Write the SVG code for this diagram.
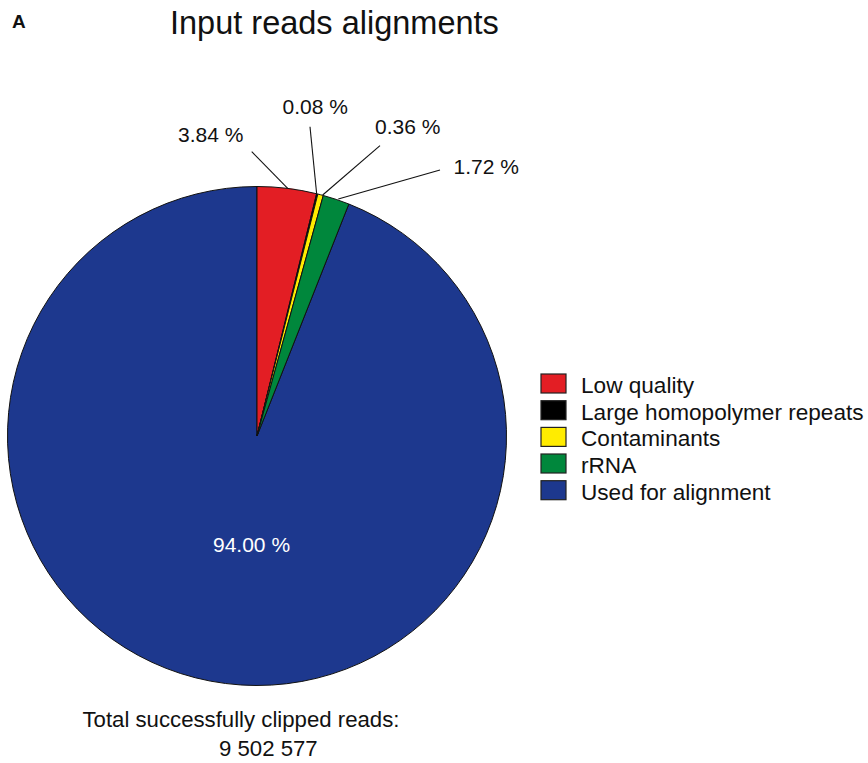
<svg xmlns="http://www.w3.org/2000/svg" width="868" height="763" viewBox="0 0 868 763">
<style>
text{font-family:"Liberation Sans",Arial,sans-serif;fill:#111}
.slice{stroke:#111;stroke-width:1;stroke-linejoin:round}
.lead{stroke:#111;stroke-width:1.1;fill:none}
.lab{font-size:21px}
.leg{font-size:22.6px}
.sw{stroke:#222;stroke-width:1.2}
.red{fill:#e31e24}.blk{fill:#000}.yel{fill:#ffec00}.grn{fill:#00873c}.blu{fill:#1d388e}
</style>
<rect width="868" height="763" fill="#fff"/>
<text x="12" y="28" style="font-size:19px;font-weight:bold">A</text>
<text x="170" y="34" style="font-size:32.5px">Input reads alignments</text>

<g id="slice-used">
<path class="slice blu" d="M257,436 L348.85,204.02 A249.5,249.5 0 1 1 257,186.5 Z"/>
<text x="213" y="552" style="font-size:21px;fill:#fff">94.00 %</text>
</g>
<g id="slice-low-quality">
<path class="slice red" d="M257,436 L257,186.5 A249.5,249.5 0 0 1 316.62,193.73 Z"/>
</g>
<g id="slice-homopolymer">
<path class="slice blk" d="M257,436 L316.62,193.73 A249.5,249.5 0 0 1 317.84,194.03 Z"/>
</g>
<g id="slice-contaminants">
<path class="slice yel" d="M257,436 L317.84,194.03 A249.5,249.5 0 0 1 323.29,195.47 Z"/>
</g>
<g id="slice-rrna">
<path class="slice grn" d="M257,436 L323.29,195.47 A249.5,249.5 0 0 1 348.85,204.02 Z"/>
</g>

<g id="connectors">
<line class="lead" x1="251.7" y1="151.7" x2="287.7" y2="188.3"/>
<line class="lead" x1="310" y1="126.7" x2="316.7" y2="194.3"/>
<line class="lead" x1="380" y1="145.7" x2="322.7" y2="195"/>
<line class="lead" x1="440" y1="170" x2="338.3" y2="199"/>
</g>

<g id="label-low-quality"><text class="lab" x="178" y="141.5">3.84 %</text></g>
<g id="label-homopolymer"><text class="lab" x="282.5" y="114.3">0.08 %</text></g>
<g id="label-contaminants"><text class="lab" x="375" y="134">0.36 %</text></g>
<g id="label-rrna"><text class="lab" x="453.5" y="174.3">1.72 %</text></g>

<g id="legend">
<g id="legend-low-quality"><rect class="sw red" x="541" y="374" width="25" height="19"/><text class="leg" x="581" y="393">Low quality</text></g>
<g id="legend-homopolymer"><rect class="sw blk" x="541" y="400.7" width="25" height="19"/><text class="leg" x="581" y="419.7">Large homopolymer repeats</text></g>
<g id="legend-contaminants"><rect class="sw yel" x="541" y="427.4" width="25" height="19"/><text class="leg" x="581" y="446.4">Contaminants</text></g>
<g id="legend-rrna"><rect class="sw grn" x="541" y="454" width="25" height="19"/><text class="leg" x="581" y="473">rRNA</text></g>
<g id="legend-used"><rect class="sw blu" x="541" y="480.7" width="25" height="19"/><text class="leg" x="581" y="499.5">Used for alignment</text></g>
</g>

<text x="82.5" y="727" style="font-size:22.2px">Total successfully clipped reads:</text>
<text x="219" y="756" style="font-size:22.2px">9 502 577</text>
</svg>
